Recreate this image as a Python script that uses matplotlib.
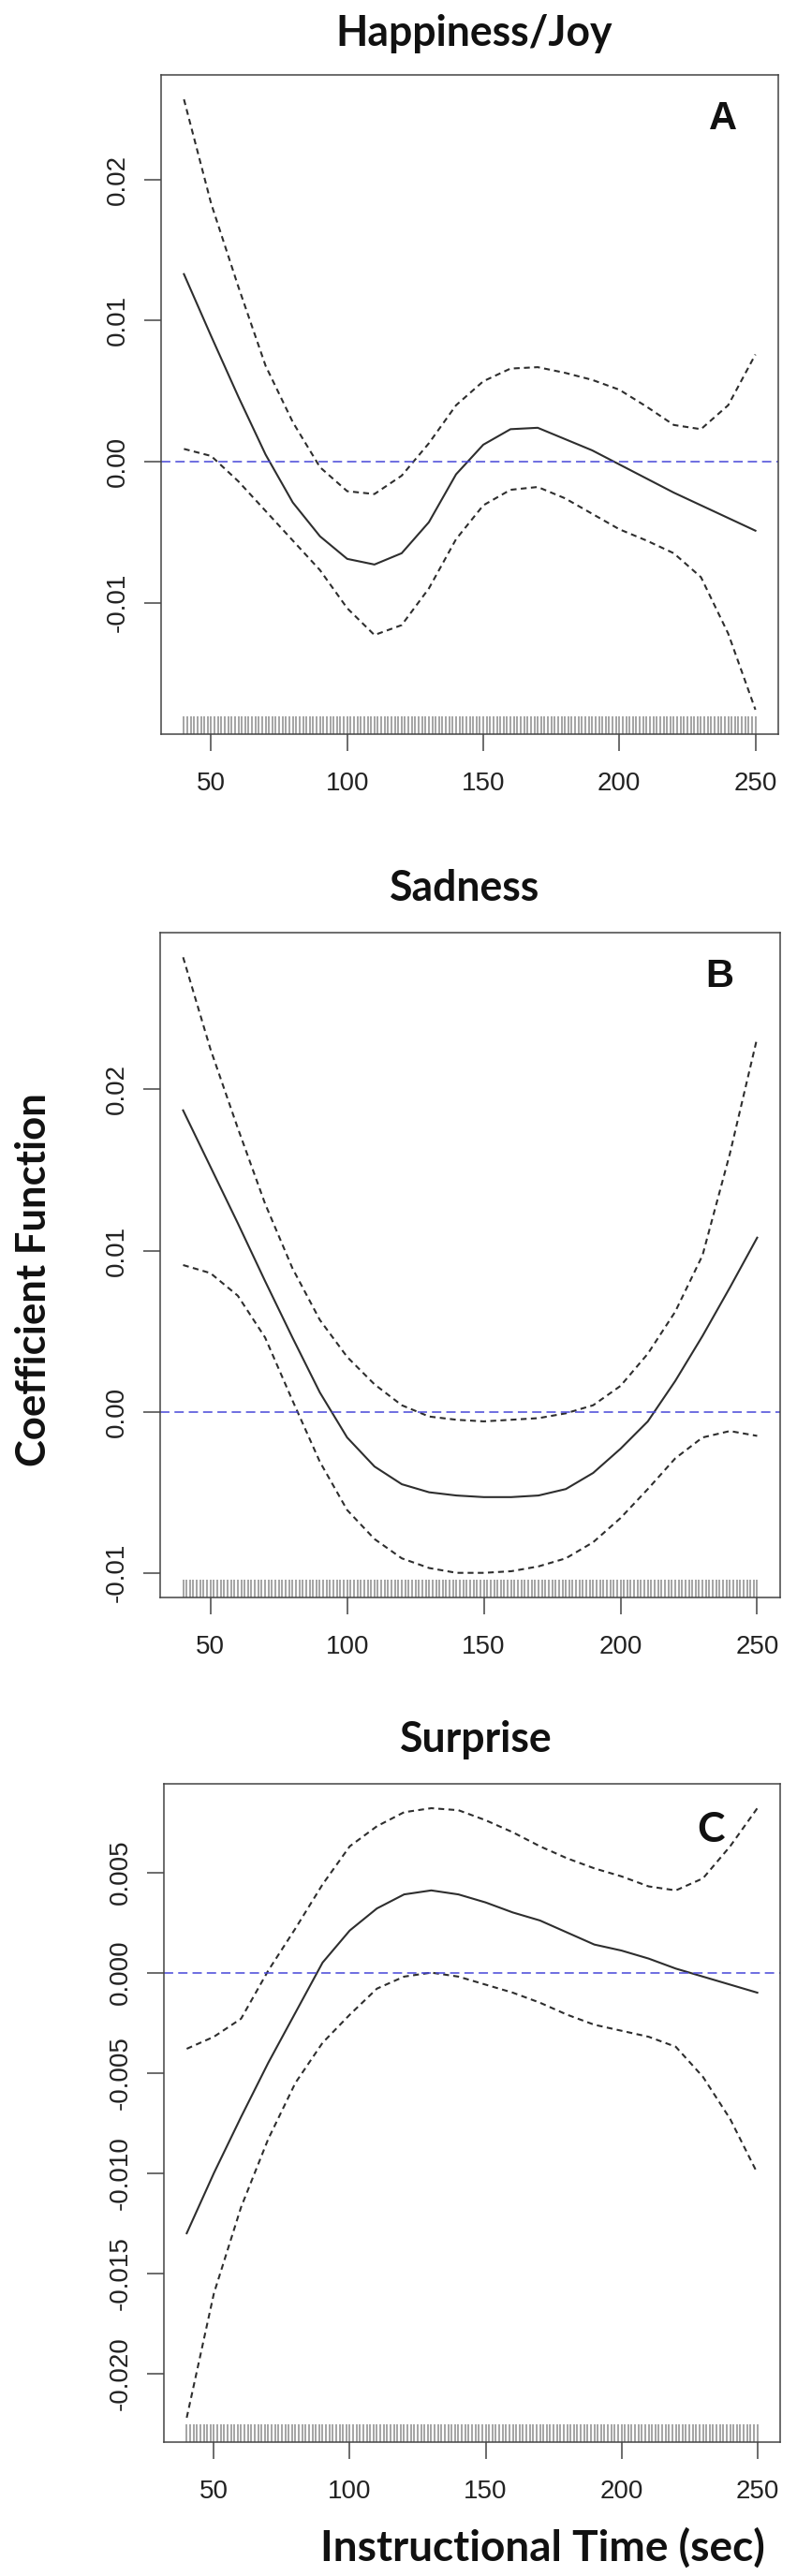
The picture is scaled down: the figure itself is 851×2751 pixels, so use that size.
import matplotlib
matplotlib.use("Agg")
import matplotlib.pyplot as plt
import numpy as np

W, H = 851, 2751  # output size in pixels

plt.rcParams['font.family'] = ['Liberation Sans', 'DejaVu Sans']

times = [40, 50, 60, 70, 80, 90, 100, 110, 120, 130, 140,
         150, 160, 170, 180, 190, 200, 210, 220, 230, 240, 250]
# observation times shown in the rug
rug_times = np.arange(40, 250.01, 1.25)

# A - Happiness/Joy
joy_fit = [0.0133, 0.0089, 0.0046, 0.0005, -0.0029, -0.0053, -0.0069, -0.0073, -0.0065, -0.0043, -0.0009,
           0.0012, 0.0023, 0.0024, 0.0016, 0.0008, -0.0002, -0.0012, -0.0022, -0.0031, -0.0040, -0.0049]
joy_upper = [0.0257, 0.0183, 0.0124, 0.0068, 0.0028, -0.0004, -0.0021, -0.0023, -0.0010, 0.0013, 0.0040,
             0.0057, 0.0066, 0.0067, 0.0063, 0.0058, 0.0051, 0.0039, 0.0026, 0.0023, 0.0040, 0.0076]
joy_lower = [0.0009, 0.0004, -0.0014, -0.0035, -0.0056, -0.0077, -0.0104, -0.0123, -0.0116, -0.0090, -0.0055,
             -0.0031, -0.0020, -0.0018, -0.0026, -0.0037, -0.0048, -0.0056, -0.0065, -0.0082, -0.0122, -0.0176]
joy_yticks = [-0.01, 0.00, 0.01, 0.02]
joy_ylabels = ['-0.01', '0.00', '0.01', '0.02']

# B - Sadness
sad_fit = [0.0187, 0.0152, 0.0117, 0.0081, 0.0046, 0.0012, -0.0016, -0.0034, -0.0045, -0.0050, -0.0052,
           -0.0053, -0.0053, -0.0052, -0.0048, -0.0038, -0.0023, -0.0006, 0.0019, 0.0047, 0.0077, 0.0108]
sad_upper = [0.0282, 0.0225, 0.0176, 0.0129, 0.0089, 0.0057, 0.0034, 0.0017, 0.0004, -0.0003, -0.0005,
             -0.0006, -0.0005, -0.0004, -0.0001, 0.0004, 0.0016, 0.0036, 0.0062, 0.0097, 0.0160, 0.0232]
sad_lower = [0.0091, 0.0086, 0.0072, 0.0046, 0.0007, -0.0031, -0.0061, -0.0079, -0.0091, -0.0097, -0.0100,
             -0.0100, -0.0099, -0.0096, -0.0091, -0.0081, -0.0066, -0.0048, -0.0029, -0.0016, -0.0012, -0.0015]
sad_yticks = [-0.01, 0.00, 0.01, 0.02]
sad_ylabels = ['-0.01', '0.00', '0.01', '0.02']

# C - Surprise
sur_fit = [-0.0130, -0.0100, -0.0072, -0.0045, -0.0020, 0.0005, 0.0021, 0.0032, 0.0039, 0.0041, 0.0039,
           0.0035, 0.0030, 0.0026, 0.0020, 0.0014, 0.0011, 0.0007, 0.0002, -0.0002, -0.0006, -0.0010]
sur_upper = [-0.0038, -0.0032, -0.0023, 0.0001, 0.0022, 0.0044, 0.0063, 0.0073, 0.0080, 0.0082, 0.0081,
             0.0076, 0.0070, 0.0063, 0.0057, 0.0052, 0.0048, 0.0043, 0.0041, 0.0047, 0.0063, 0.0082]
sur_lower = [-0.0222, -0.0160, -0.0117, -0.0083, -0.0055, -0.0035, -0.0021, -0.0008, -0.0002, 0.0000, -0.0002,
             -0.0006, -0.0010, -0.0015, -0.0021, -0.0026, -0.0029, -0.0032, -0.0037, -0.0052, -0.0073, -0.0100]
sur_yticks = [-0.020, -0.015, -0.010, -0.005, 0.000, 0.005]
sur_ylabels = ['-0.020', '-0.015', '-0.010', '-0.005', '0.000', '0.005']

xticks = [50, 100, 150, 200, 250]


def box(l, t, r, b):
    """pixel box (left, top, right, bottom) -> figure fraction rect"""
    return [l / W, 1 - b / H, (r - l) / W, (b - t) / H]


def fx(x):
    return x / W


def fy(y):
    return 1 - y / H


fig = plt.figure(figsize=(W / 100, H / 100), dpi=100)

panels = [
    ("Happiness/Joy", "A", joy_fit, joy_upper, joy_lower, joy_yticks, joy_ylabels,
     (172, 80, 831, 784), (506, 49), (771.5, 138), 'Liberation Sans', 30),
    ("Sadness", "B", sad_fit, sad_upper, sad_lower, sad_yticks, sad_ylabels,
     (171, 996, 833, 1706), (496.5, 962), (768.5, 1054), 'Liberation Sans', 30),
    ("Surprise", "C", sur_fit, sur_upper, sur_lower, sur_yticks, sur_ylabels,
     (175, 1905, 833, 2608), (508.5, 1871), (759, 1967), 'Lato', 32),
]

line_col = '#2e2e2e'
titles = []
for title, letter, fit, upper, lower, yt, ylab, px, tpos, lpos, lfont, lsize in panels:
    ax = fig.add_axes(box(*px))
    ax.plot(times, fit, color=line_col, lw=1.5, solid_joinstyle='round')
    ax.plot(times, upper, color=line_col, lw=1.5, dashes=(3.0, 2.2))
    ax.plot(times, lower, color=line_col, lw=1.5, dashes=(3.0, 2.2))
    ax.axhline(0, color='#4646d8', lw=1.1, dashes=(6.5, 3.5))

    # rug along the bottom
    rug_h = 19 / (px[3] - px[1])
    ax.vlines(rug_times, 0, rug_h, transform=ax.get_xaxis_transform(),
              color='#a4a4a4', lw=1.4)

    # R style limits: 4% expansion of the data range
    lo, hi = min(lower), max(upper)
    pad = 0.04 * (hi - lo)
    ax.set_ylim(lo - pad, hi + pad)
    ax.set_xlim(40 - 0.04 * 210, 250 + 0.04 * 210)

    ax.set_xticks(xticks)
    ax.set_xticklabels([str(t) for t in xticks])
    ax.set_yticks(yt)
    ax.set_yticklabels(ylab, rotation=90, va='center')
    ax.tick_params(axis='both', length=13, width=1.1, color='#444444',
                   labelsize=20, labelcolor='#222222')
    ax.tick_params(axis='x', pad=16)
    ax.tick_params(axis='y', pad=11)
    for sp in ax.spines.values():
        sp.set_linewidth(1.1)
        sp.set_color('#444444')

    t = fig.text(fx(tpos[0]), fy(tpos[1]), title, ha='center', va='baseline',
                 family='Lato', fontweight='bold', fontsize=32, color='#111111')
    titles.append(t)
    fig.text(fx(lpos[0]), fy(lpos[1]), letter, ha='center', va='baseline',
             family=lfont, fontweight='bold', fontsize=lsize, color='#111111')

ylab_t = fig.text(fx(36), fy(1367), "Coefficient Function", rotation=90,
                  ha='center', va='center', family='Lato', fontweight='bold',
                  fontsize=31, color='#111111')
xlab_t = fig.text(fx(579.5), fy(2735), "Instructional Time (sec)", ha='center',
                  va='baseline', family='Lato', fontweight='bold', fontsize=31,
                  color='#111111')

# scale the bold labels so their lengths match the picture
renderer = fig.canvas.get_renderer()
w = titles[0].get_window_extent(renderer).width
size = titles[0].get_fontsize() * 296 / w
for t in titles:
    t.set_fontsize(size)
hgt = ylab_t.get_window_extent(renderer).height
ylab_t.set_fontsize(ylab_t.get_fontsize() * 398 / hgt)
w = xlab_t.get_window_extent(renderer).width
xlab_t.set_fontsize(xlab_t.get_fontsize() * 475 / w)

fig.savefig("out.png", dpi=100)
